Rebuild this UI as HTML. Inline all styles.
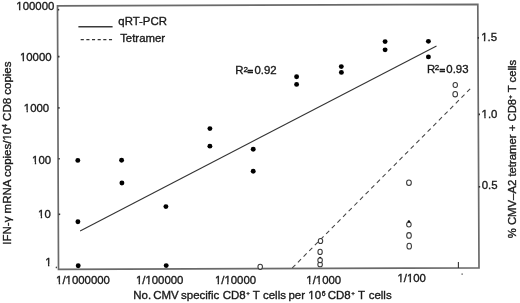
<!DOCTYPE html>
<html><head><meta charset="utf-8"><style>
html,body{margin:0;padding:0;background:#fff;}
body{width:520px;height:303px;overflow:hidden;}
svg{display:block;}
text{font-family:"Liberation Sans",Arial,sans-serif;fill:#1a1a1a;stroke:#1a1a1a;stroke-width:0.35px;}
</style></head><body>
<svg width="520" height="303" viewBox="0 0 520 303">
<rect width="520" height="303" fill="#fff"/>
<defs><mask id="nf" maskUnits="userSpaceOnUse" x="0" y="0" width="520" height="303"><rect width="520" height="303" fill="#fff"/><g fill="#000"><rect x="16.35" y="8.80" width="2.62" height="3.3"/><rect x="20.40" y="8.80" width="2.45" height="3.3"/><rect x="20.00" y="59.60" width="2.62" height="3.3"/><rect x="24.05" y="59.60" width="2.45" height="3.3"/><rect x="23.90" y="109.90" width="2.62" height="3.3"/><rect x="27.95" y="109.90" width="2.45" height="3.3"/><rect x="32.15" y="161.90" width="2.62" height="3.3"/><rect x="36.20" y="161.90" width="2.45" height="3.3"/><rect x="38.10" y="216.00" width="2.62" height="3.3"/><rect x="42.15" y="216.00" width="2.45" height="3.3"/><rect x="45.35" y="264.20" width="2.62" height="3.3"/><rect x="49.40" y="264.20" width="2.45" height="3.3"/><rect x="481.25" y="39.70" width="2.62" height="3.3"/><rect x="485.30" y="39.70" width="2.45" height="3.3"/><rect x="481.65" y="116.50" width="2.62" height="3.3"/><rect x="485.70" y="116.50" width="2.45" height="3.3"/><rect x="56.15" y="282.30" width="2.62" height="3.3"/><rect x="60.20" y="282.30" width="1.90" height="3.3"/><rect x="65.63" y="282.30" width="2.62" height="3.3"/><rect x="69.68" y="282.30" width="2.45" height="3.3"/><rect x="135.95" y="282.30" width="2.62" height="3.3"/><rect x="140.00" y="282.30" width="1.90" height="3.3"/><rect x="145.43" y="282.30" width="2.62" height="3.3"/><rect x="149.48" y="282.30" width="2.45" height="3.3"/><rect x="214.95" y="282.30" width="2.62" height="3.3"/><rect x="219.00" y="282.30" width="1.90" height="3.3"/><rect x="224.43" y="282.30" width="2.62" height="3.3"/><rect x="228.48" y="282.30" width="2.45" height="3.3"/><rect x="306.40" y="282.00" width="2.62" height="3.3"/><rect x="310.45" y="282.00" width="1.90" height="3.3"/><rect x="315.88" y="282.00" width="2.62" height="3.3"/><rect x="319.93" y="282.00" width="2.45" height="3.3"/><rect x="397.50" y="280.60" width="2.62" height="3.3"/><rect x="401.55" y="280.60" width="1.90" height="3.3"/><rect x="406.98" y="280.60" width="2.62" height="3.3"/><rect x="411.03" y="280.60" width="2.45" height="3.3"/><rect x="308.36" y="297.70" width="2.64" height="3.3"/><rect x="312.44" y="297.70" width="2.47" height="3.3"/></g><g fill="#000" transform="translate(10.9,244.7) rotate(-90)"><rect x="104.21" y="-1.60" width="2.64" height="3.3"/><rect x="108.29" y="-1.60" width="2.47" height="3.3"/></g></mask></defs>
<!-- plot box -->
<polygon points="57.5,5.8 477.8,4.3 479,267.8 58.5,269.45" fill="none" stroke="#6a6a6a" stroke-width="1.7"/>
<!-- left ticks -->
<g stroke="#333" stroke-width="1.6">
<line x1="57.9" y1="9.7" x2="59.2" y2="9.7"/>
<line x1="58" y1="56.6" x2="59.5" y2="56.6"/>
<line x1="58.2" y1="107.9" x2="59.6" y2="107.9"/>
<line x1="58.4" y1="158.8" x2="59.8" y2="158.8"/>
<line x1="58.6" y1="214.3" x2="60.2" y2="214.3"/>
<!-- right ticks -->
<line x1="477.7" y1="37.9" x2="479" y2="37.9"/>
<line x1="478.5" y1="114.35" x2="480" y2="114.35"/>
<line x1="478.7" y1="186.8" x2="480.2" y2="186.8"/>
</g>
<g stroke="#333" stroke-width="1.1">
<!-- bottom tick -->
<line x1="458.4" y1="262" x2="458.4" y2="268"/>
</g>
<ellipse cx="56.3" cy="267.4" rx="0.6" ry="0.9" fill="#222"/>
<ellipse cx="462.1" cy="274.1" rx="0.6" ry="0.9" fill="#444"/>
<!-- regression lines -->
<line x1="80.1" y1="230.9" x2="436.5" y2="46.0" stroke="#333" stroke-width="1.1"/>
<line x1="292.3" y1="267.94" x2="470.3" y2="88.73" stroke="#444" stroke-width="1.05" stroke-dasharray="4.4 3.6"/>
<!-- legend -->
<line x1="78.4" y1="26.8" x2="112.6" y2="26.7" stroke="#3a3a3a" stroke-width="1.5"/>
<line x1="80.7" y1="39.7" x2="112.2" y2="39.7" stroke="#333" stroke-width="1.2" stroke-dasharray="3.1 2.55"/>
<!-- filled dots -->
<g fill="#000">
<circle cx="77.8" cy="160.4" r="2.45"/>
<circle cx="77.9" cy="221.7" r="2.45"/>
<circle cx="78.2" cy="265.8" r="2.45"/>
<circle cx="121.6" cy="160.2" r="2.45"/>
<circle cx="121.9" cy="183" r="2.45"/>
<circle cx="165.9" cy="206.6" r="2.45"/>
<circle cx="166.2" cy="265.6" r="2.45"/>
<circle cx="209.9" cy="128.6" r="2.45"/>
<circle cx="209.9" cy="146.15" r="2.45"/>
<circle cx="253.2" cy="149.2" r="2.45"/>
<circle cx="253.2" cy="171.3" r="2.45"/>
<circle cx="296.6" cy="76.7" r="2.45"/>
<circle cx="296.6" cy="84.4" r="2.45"/>
<circle cx="341.3" cy="66.6" r="2.45"/>
<circle cx="341.4" cy="72.4" r="2.45"/>
<circle cx="385.1" cy="41.6" r="2.45"/>
<circle cx="385.1" cy="49.85" r="2.45"/>
<circle cx="428.4" cy="41.35" r="2.45"/>
<circle cx="428.4" cy="56.9" r="2.45"/>
</g>
<!-- open circles -->
<g fill="#fff" stroke="#3a3a3a" stroke-width="1.05">
<ellipse cx="260.2" cy="266.8" rx="2.27" ry="2.57"/>
<ellipse cx="320.5" cy="241" rx="2.22" ry="2.57"/>
<ellipse cx="320.1" cy="251.95" rx="2.17" ry="2.62"/>
<ellipse cx="320.1" cy="264.4" rx="2.27" ry="2.42"/>
<ellipse cx="320.1" cy="260.2" rx="2.27" ry="2.42"/>
<ellipse cx="408.95" cy="182.75" rx="2.37" ry="2.67"/>
<ellipse cx="408.9" cy="224.5" rx="2.27" ry="2.52"/>
<ellipse cx="409" cy="235.45" rx="2.32" ry="2.82"/>
<ellipse cx="409.2" cy="246.15" rx="2.27" ry="2.82"/>
<ellipse cx="455.25" cy="84.95" rx="2.22" ry="2.52"/>
<ellipse cx="455.2" cy="94.15" rx="2.32" ry="2.72"/>
</g>
<g fill="#111">
<circle cx="320.1" cy="257.6" r="0.9"/>
<circle cx="408.9" cy="221.5" r="1.25"/>
</g>
<g mask="url(#nf)">
<text x="118.35" y="24.7" font-size="11.4">qRT-PCR</text>
<text x="120.15" y="41.8" font-size="11.4">Tetramer</text>
<!-- R2 labels -->
<g font-size="11.4">
<text x="235.3" y="74.3">R</text><text x="243.5" y="71.75" font-size="8">2</text><text x="247.5" y="74.1" font-size="9.6" style="stroke-width:0.75px">=</text><text x="254.45" y="74.3">0.92</text>
<text x="427.0" y="72.9">R</text><text x="434.8" y="69.75" font-size="8">2</text><text x="439.5" y="72.7" font-size="9.6" style="stroke-width:0.75px">=</text><text x="446.3" y="72.9">0.93</text>
</g>
<!-- Y labels left -->
<g font-size="11.4">
<text x="16.3" y="10.4">100000</text>
<text x="19.95" y="61.2">10000</text>
<text x="23.85" y="111.5">1000</text>
<text x="32.1" y="163.5">100</text>
<text x="38.05" y="217.6">10</text>
<text x="45.3" y="265.8">1</text>
<!-- right labels -->
<text x="481.2" y="41.3">1.5</text>
<text x="481.6" y="118.1">1.0</text>
<text x="481.75" y="189">0.5</text>
<!-- x labels -->
<text x="56.1" y="283.9">1/1000000</text>
<text x="135.9" y="283.9">1/100000</text>
<text x="214.9" y="283.9">1/10000</text>
<text x="306.35" y="283.6">1/1000</text>
<text x="397.45" y="282.2">1/100</text>
</g>
<!-- x title -->
<text y="299.3" font-size="11.47"><tspan x="133.25">No.</tspan> <tspan x="153.13">CMV</tspan> <tspan x="181.05">specific</tspan> <tspan x="222.63">CD8</tspan><tspan x="246.23" font-size="6.2" dy="-4.4">+</tspan> <tspan x="252.68" dy="4.4">T</tspan> <tspan x="262.97">cells</tspan> <tspan x="288.39">per</tspan> <tspan x="308.31">10</tspan><tspan x="321.69" font-size="6.8" dy="-3.4">6</tspan> <tspan x="327.74" dy="3.4">CD8</tspan><tspan x="351.26" font-size="6.2" dy="-4.4">+</tspan> <tspan x="357.91" dy="4.4">T</tspan> <tspan x="368.7">cells</tspan></text>
<!-- left y title -->
<text transform="translate(10.9,244.7) rotate(-90)" font-size="11.5">IFN-γ mRNA copies/10<tspan font-size="6.5" dy="-3.9">4</tspan><tspan dy="3.9"> CD8 copies</tspan></text>
<!-- right y title -->
<text transform="translate(516.2,238.3) rotate(-90)" font-size="11.33">% CMV–A2 tetramer + CD8<tspan font-size="6.2" dy="-4.4">+</tspan><tspan dy="4.4"> T cells</tspan></text>
</g>
</svg>
</body></html>
